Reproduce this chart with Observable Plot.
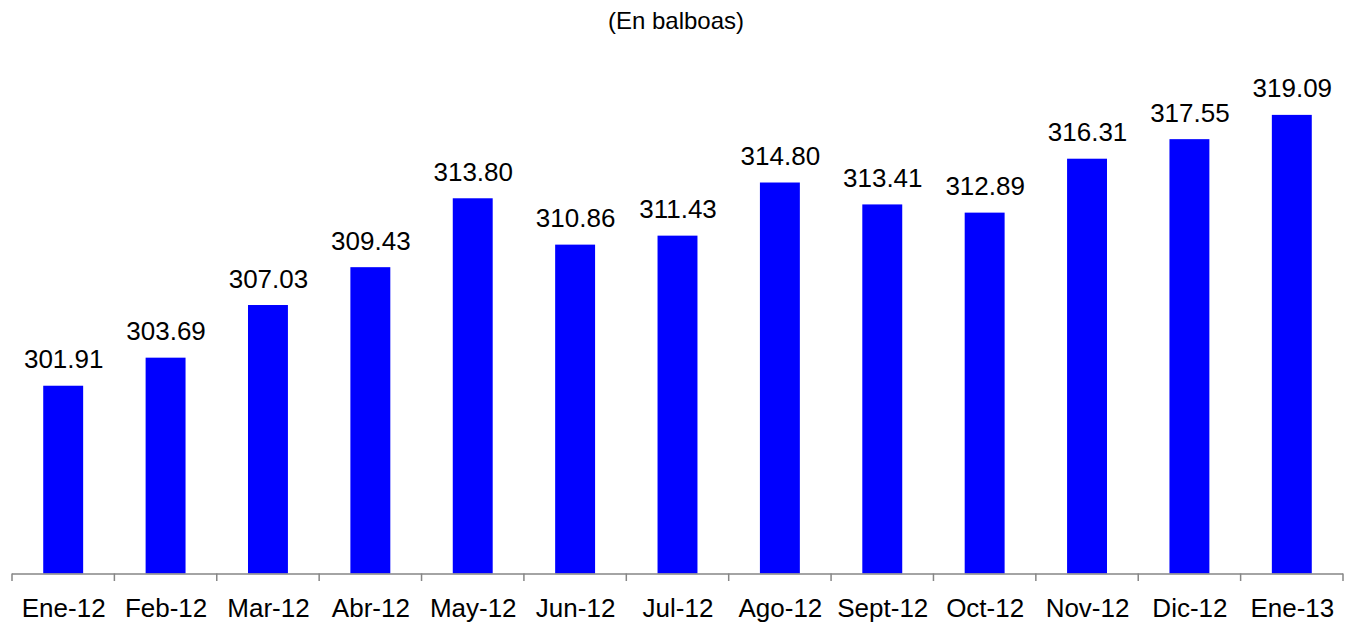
<!DOCTYPE html>
<html>
<head>
<meta charset="utf-8">
<script src="https://cdn.jsdelivr.net/npm/d3@7"></script>
<script src="https://cdn.jsdelivr.net/npm/@observablehq/plot@0.6"></script>
<style>
  html, body { margin: 0; padding: 0; background: #fff; }
  #title { height: 42px; line-height: 42px; text-align: center; font-family: "Liberation Sans", Arial, sans-serif; font-size: 24px; color: #000; }
  #chart svg { display: block; }
</style>
</head>
<body>
<div id="title">(En balboas)</div>
<div id="chart"></div>
<script>
const months = ["Ene-12","Feb-12","Mar-12","Abr-12","May-12","Jun-12","Jul-12","Ago-12","Sept-12","Oct-12","Nov-12","Dic-12","Ene-13"];
const values = [301.91, 303.69, 307.03, 309.43, 313.80, 310.86, 311.43, 314.80, 313.41, 312.89, 316.31, 317.55, 319.09];
const yDomain = [290, 322];

const data = months.map((m, i) => ({month: m, value: values[i]}));

const W = 1352, H = 580;
const mL = 12, mR = 9, mT = 27, mB = 48.5;

// tick marks at band boundaries, drawn through the x band scale
function boundaryTicks(index, scales, values, dims) {
  const x = scales.x;
  const bw = x.bandwidth ? x.bandwidth() : 0;
  const step = x.step ? x.step() : (dims.width - dims.marginLeft - dims.marginRight) / months.length;
  const gap = (step - bw) / 2;
  const y0 = dims.height - dims.marginBottom;
  const xs = months.map(m => x(m) - gap);
  xs.push(x(months[months.length - 1]) + bw + gap);
  const g = d3.create("svg:g");
  g.selectAll("line").data(xs).join("line")
    .attr("x1", d => d).attr("x2", d => d)
    .attr("y1", y0).attr("y2", y0 + 7.5)
    .attr("stroke", "#868686").attr("stroke-width", 1.5);
  return g.node();
}

const chart = Plot.plot({
  width: W, height: H,
  marginLeft: mL, marginRight: mR, marginTop: mT, marginBottom: mB,
  style: {fontFamily: "'Liberation Sans', Arial, sans-serif", background: "#fff", color: "#000"},
  x: {domain: months, paddingInner: 0.61, paddingOuter: 0.305, round: false, label: null},
  y: {domain: yDomain, axis: null},
  marks: [
    Plot.barY(data, {x: "month", y1: yDomain[0], y2: "value", fill: "#0000FF"}),
    Plot.text(data, {x: "month", y: "value", text: d => d.value.toFixed(2), dy: -18, lineAnchor: "bottom", fontSize: 26, fill: "#000"}),
    Plot.ruleY([yDomain[0]], {stroke: "#868686", strokeWidth: 1.5}),
    boundaryTicks,
    Plot.axisX({tickSize: 0, tickPadding: 25, fontSize: 26, label: null, fill: "#000"})
  ]
});
document.getElementById("chart").appendChild(chart);
</script>
</body>
</html>
